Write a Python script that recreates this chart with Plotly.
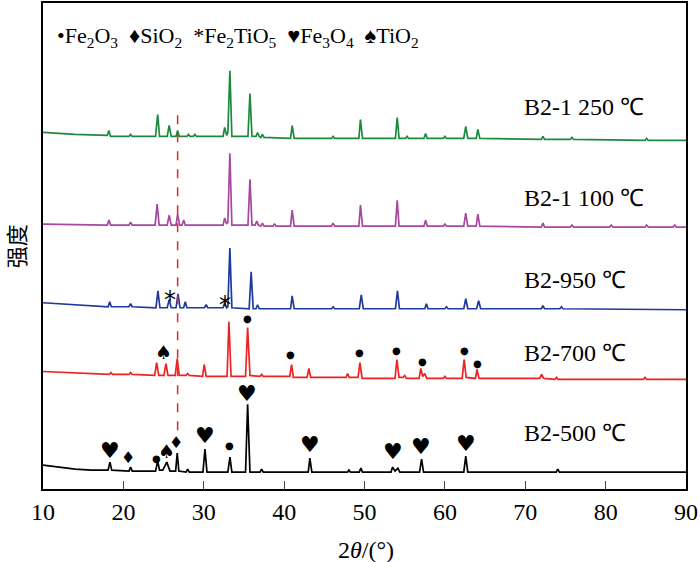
import plotly.graph_objects as go

# XRD patterns, 2theta (deg) vs stacked intensity (offset units)
tt_500 = [10.0, 12.0, 14.0, 16.0, 18.1, 18.33, 18.55, 20.7, 20.9, 21.1, 24.0, 24.27, 24.5, 24.9, 25.4, 25.8,
          26.5, 26.7, 26.9, 27.8, 28.0, 28.2, 29.9, 30.15, 30.4, 33.0, 33.26, 33.5, 35.2, 35.46, 35.75,
          37.0, 37.2, 37.4, 43.0, 43.2, 43.45, 47.9, 48.06, 48.25, 49.35, 49.55, 49.75, 53.3, 53.5, 53.8,
          54.15, 54.4, 56.85, 57.1, 57.35, 62.35, 62.6, 62.85, 73.85, 74.05, 74.25, 90.0]
i_500 = [24, 22, 20, 19, 19, 27, 19, 18, 22, 18, 18, 28, 19, 19, 27, 18,
         18, 36, 18, 17, 20, 17, 17, 40, 17, 17, 32, 17, 17, 85, 17,
         17, 20, 17, 17, 31, 17, 17, 19, 17, 17, 21, 17, 17, 22, 18,
         21, 17, 17, 30, 17, 17, 33, 17, 17, 20, 17, 17]

tt_700 = [10.0, 15.0, 18.25, 18.45, 18.65, 20.7, 20.9, 21.1, 23.9, 24.14, 24.4, 25.05, 25.3, 25.55,
          26.45, 26.7, 26.95, 27.8, 28.0, 28.2, 29.85, 30.06, 30.3, 32.9, 33.13, 33.4, 35.2, 35.46, 35.75,
          37.0, 37.2, 37.4, 40.7, 40.93, 41.15, 42.85, 43.08, 43.3, 47.7, 47.9, 48.1, 49.2, 49.43, 49.7,
          53.8, 54.03, 54.3, 54.8, 55.0, 55.2, 56.8, 57.0, 57.25, 57.5, 57.75, 59.8, 60.0, 60.2,
          62.15, 62.4, 62.65, 63.8, 64.0, 64.25, 71.8, 72.03, 72.3, 73.7, 73.9, 74.1, 84.7, 84.9, 85.1, 90.0]
i_700 = [118, 116, 115, 117, 115, 115, 117, 115, 114, 127, 114, 114, 126, 114,
         114, 131, 114, 114, 116, 114, 113, 125, 113, 113, 168, 113, 113, 162, 114,
         113, 115, 113, 113, 125, 112, 112, 121, 112, 112, 116, 112, 112, 127, 111,
         111, 130, 112, 112, 114, 111, 111, 121, 113, 116, 111, 111, 113, 111,
         111, 130, 112, 111, 120, 111, 111, 115, 111, 110, 112, 110, 110, 112, 110, 110]

tt_950 = [10.0, 14.0, 18.1, 18.3, 18.5, 20.7, 20.9, 21.1, 24.05, 24.3, 24.55, 25.45, 25.7, 25.95,
          26.55, 26.8, 27.05, 27.5, 27.7, 27.9, 30.1, 30.3, 30.5, 32.4, 32.6, 32.85, 33.0, 33.25, 33.5,
          35.65, 35.9, 36.15, 36.5, 36.7, 36.9, 40.8, 41.0, 41.25, 45.9, 46.1, 46.3, 49.35, 49.6, 49.85,
          53.85, 54.1, 54.35, 57.5, 57.7, 57.9, 60.0, 60.2, 60.4, 62.35, 62.6, 62.85, 63.95, 64.2, 64.45,
          72.0, 72.2, 72.4, 74.3, 74.5, 74.7, 90.0]
i_950 = [187, 185, 183, 188, 183, 183, 186, 183, 182, 199, 182, 182, 190, 182,
         182, 196, 182, 182, 188, 182, 182, 185, 182, 182, 187, 182, 183, 242, 182,
         181, 218, 181, 181, 185, 181, 181, 194, 181, 181, 183, 181, 181, 195, 181,
         181, 199, 181, 181, 186, 181, 181, 183, 181, 181, 191, 181, 181, 189, 181,
         181, 184, 181, 181, 183, 181, 180]

tt_100 = [10.0, 18.0, 18.2, 18.4, 20.7, 20.9, 21.1, 23.95, 24.2, 24.45, 25.45, 25.7, 25.95,
          26.55, 26.75, 27.0, 27.3, 27.5, 27.7, 32.4, 32.6, 32.85, 33.0, 33.25, 33.5, 35.5, 35.75, 36.0,
          36.4, 36.6, 36.8, 37.1, 37.3, 37.5, 38.6, 38.8, 39.0, 40.8, 41.0, 41.25, 45.9, 46.1, 46.3,
          49.3, 49.5, 49.75, 53.85, 54.07, 54.3, 57.4, 57.6, 57.8, 59.8, 60.0, 60.2, 62.35, 62.6, 62.85,
          63.9, 64.1, 64.35, 72.0, 72.2, 72.4, 75.6, 75.8, 76.0, 80.5, 80.7, 80.9, 84.9, 85.1, 85.3,
          88.4, 88.6, 88.8, 90.0]
i_100 = [266, 265, 270, 265, 265, 268, 265, 265, 286, 265, 265, 275, 265,
         265, 276, 265, 265, 270, 265, 265, 272, 266, 268, 337, 265, 265, 311, 265,
         265, 269, 265, 264, 267, 264, 264, 266, 264, 264, 280, 264, 264, 267, 264,
         264, 285, 264, 264, 290, 264, 264, 270, 264, 264, 266, 264, 264, 277, 264,
         264, 276, 264, 263, 267, 263, 263, 265, 263, 263, 265, 263, 263, 265, 263,
         263, 265, 263, 263]

tt_250 = [10.0, 14.0, 18.0, 18.2, 18.4, 20.7, 20.9, 21.1, 24.0, 24.27, 24.5, 25.45, 25.7, 25.95,
          26.55, 26.75, 26.95, 27.9, 28.1, 28.3, 28.7, 28.9, 29.1, 32.4, 32.6, 32.85, 33.0, 33.25, 33.5,
          35.5, 35.75, 36.0, 36.5, 36.7, 36.9, 37.1, 37.3, 37.5, 40.8, 41.0, 41.25, 45.9, 46.1, 46.3,
          49.3, 49.5, 49.75, 53.85, 54.07, 54.3, 55.1, 55.3, 55.5, 57.4, 57.6, 57.8, 59.8, 60.0, 60.2,
          62.35, 62.6, 62.85, 63.9, 64.1, 64.35, 72.0, 72.2, 72.4, 75.6, 75.8, 76.0, 84.9, 85.1, 85.3, 90.0]
i_250 = [358, 356, 355, 360, 354, 354, 356, 354, 354, 376, 354, 354, 365, 354,
         354, 360, 354, 354, 356, 354, 354, 356, 354, 354, 363, 355, 358, 420, 354,
         354, 397, 354, 354, 358, 354, 353, 356, 353, 352, 365, 352, 352, 354, 352,
         352, 371, 352, 352, 373, 352, 352, 354, 352, 352, 357, 352, 352, 354, 352,
         352, 364, 352, 352, 361, 352, 351, 354, 351, 351, 353, 351, 350, 352, 350, 350]

names = ['B2-500 ℃', 'B2-700 ℃', 'B2-950 ℃', 'B2-1 100 ℃', 'B2-1 250 ℃']
colors = ['#000000', '#ee2222', '#1f3a9e', '#a8479f', '#1b8a3e']
xs = [tt_500, tt_700, tt_950, tt_100, tt_250]
ys = [i_500, i_700, i_950, i_100, i_250]
label_y = [56, 137, 210, 292, 384]

# phase markers above peaks: (2theta, y, symbol)
mark_x = [18.33, 20.6, 24.1, 25.4, 26.5, 30.15, 33.2, 35.4, 43.2, 53.6, 57.0, 62.6,
          25.05, 35.46, 40.8, 49.4, 54.0, 57.2, 62.5, 64.0,
          25.8, 32.6]
mark_y = [39, 32, 31, 38, 47, 54, 44, 96, 45, 38, 43, 46,
          138, 171, 135, 137, 139, 128, 139, 126,
          196, 191]
mark_s = ['♥', '♦', '●', '♠', '♦', '♥', '●', '♥', '♥', '♥', '♥', '♥',
          '♠', '●', '●', '●', '●', '●', '●', '●',
          '*', '*']

fig = go.Figure()
for x, y, n, c in zip(xs, ys, names, colors):
    fig.add_trace(go.Scatter(x=x, y=y, mode='lines', name=n,
                             line=dict(color=c, width=1.7), showlegend=False))

for n, ly in zip(names, label_y):
    fig.add_annotation(x=69.6, y=ly, text=n, showarrow=False, xanchor='left',
                       yanchor='middle', font=dict(family='Liberation Serif', size=24, color='black'))

sizes = {'♥': 22, '♦': 16, '●': 10, '♠': 19, '*': 24}
for mx, my, s in zip(mark_x, mark_y, mark_s):
    fig.add_annotation(x=mx, y=my, text=s, showarrow=False, xanchor='center', yanchor='middle',
                       yshift=-6 if s == '*' else 0,
                       font=dict(family='DejaVu Sans', size=sizes[s], color='black'))

# phase key at the top
fig.add_annotation(xref='paper', yref='paper', x=0.018, y=0.93, xanchor='left', yanchor='middle',
                   showarrow=False,
                   text='•Fe<sub>2</sub>O<sub>3</sub>  ♦SiO<sub>2</sub>  *Fe<sub>2</sub>TiO<sub>5</sub>'
                        '  ♥Fe<sub>3</sub>O<sub>4</sub>  ♠TiO<sub>2</sub>',
                   font=dict(family='Liberation Serif', size=22, color='black'))

# axis titles
fig.add_annotation(xref='paper', yref='paper', x=0.503, y=-0.125, showarrow=False,
                   xanchor='center', yanchor='middle',
                   text='2<i>θ</i>/(°)', font=dict(family='Liberation Serif', size=24, color='black'))
fig.add_annotation(xref='paper', yref='paper', x=-0.043, y=0.5, showarrow=False, textangle=-90,
                   xanchor='center', yanchor='middle',
                   text='强度', font=dict(family='Noto Sans CJK SC', size=22, color='black'))

# reference line
fig.add_shape(type='line', x0=26.75, x1=26.75, y0=59, y1=380,
              line=dict(color='#ee2222', width=1.5, dash='dash'))

fig.update_layout(
    width=700, height=562,
    margin=dict(l=43, r=14, t=1, b=73),
    plot_bgcolor='white', paper_bgcolor='white',
    font=dict(family='Liberation Serif', size=24, color='black'),
)
fig.update_xaxes(range=[10, 90], dtick=10, ticks='inside', ticklen=8, tickwidth=1.2,
                 showline=True, linecolor='black', linewidth=1.5, mirror=True,
                 showgrid=False, zeroline=False, tickfont=dict(size=24))
fig.update_yaxes(range=[0, 488], showticklabels=False, ticks='',
                 showline=True, linecolor='black', linewidth=1.5, mirror=True,
                 showgrid=False, zeroline=False)

# page has a default body margin; drop it so the figure sits at the window corner
fig.write_html('out.html', config={'displayModeBar': False},
               post_script="document.body.style.margin='0';")
